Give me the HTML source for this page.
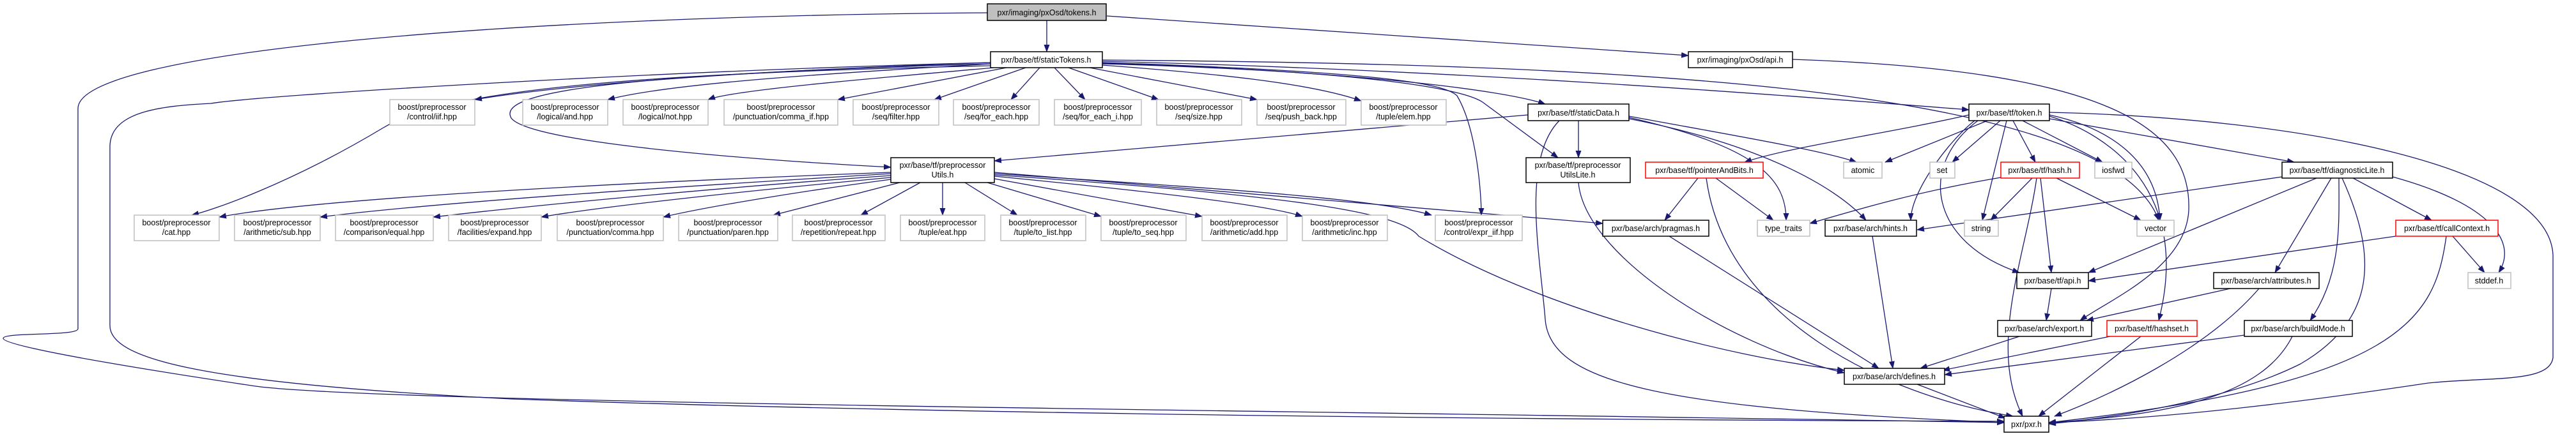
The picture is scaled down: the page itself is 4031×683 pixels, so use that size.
<!DOCTYPE html>
<html><head><meta charset="utf-8"><style>
html,body{margin:0;padding:0;background:#fff;}
svg{display:block;}
text{font-family:"Liberation Sans",sans-serif;font-size:12.5px;fill:#000;text-anchor:middle;}
.e{fill:none;stroke:#191970;stroke-width:1.3;marker-end:url(#a);}
.n{fill:#fff;stroke:#000;stroke-width:1.5;}
.g{fill:#fff;stroke:#bfbfbf;stroke-width:1.5;}
.r{fill:#fff;stroke:#ff0000;stroke-width:1.5;}
</style></head><body>
<svg width="4031" height="683" viewBox="0 0 4031 683" xmlns="http://www.w3.org/2000/svg">
<defs><marker id="a" markerWidth="12" markerHeight="9" refX="11" refY="4.5" orient="auto" markerUnits="userSpaceOnUse"><polygon points="0,0 12,4.5 0,9" fill="#191970"/></marker></defs>
<g>
<!-- tokens.h edges -->
<path class="e" d="M1638,32 L1638,81"/>
<path class="e" d="M1732,25 L2642,87"/>
<path class="e" d="M1545,20 C800,25 122,80 122,170 L122,515 C122,527 5,520 5,530 C5,545 300,590 400,605 C600,632 2000,642 3136,662"/>
<!-- staticTokens edges -->
<path class="e" d="M1550,98 C1200,110 900,130 743,156"/>
<path class="e" d="M1550,100 C1300,115 1050,130 951,156"/>
<path class="e" d="M1555,106 C1400,120 1150,140 1108,156"/>
<path class="e" d="M1575,106 L1311,156"/>
<path class="e" d="M1605,106 L1462,156"/>
<path class="e" d="M1627,106 L1582,156"/>
<path class="e" d="M1650,106 L1698,156"/>
<path class="e" d="M1672,106 L1813,156"/>
<path class="e" d="M1705,106 L1967,156"/>
<path class="e" d="M1725,102 C1900,115 2050,130 2130,158"/>
<path class="e" d="M1550,103 C1000,115 700,140 600,200 C450,290 330,330 300,337"/>
<path class="e" d="M1550,98 C1000,112 400,150 330,162 C250,166 172,175 172,230 L172,510 C172,560 300,600 800,625 C1500,650 2500,658 3136,660"/>
<path class="e" d="M1550,100 C900,118 780,150 800,185 C830,225 1200,252 1394,262"/>
<path class="e" d="M1725,100 C2100,110 2350,140 2418,163"/>
<path class="e" d="M1725,96 C2300,110 2800,150 3081,172"/>
<path class="e" d="M1725,99 C2150,112 2290,140 2320,160 L2438,247"/>
<path class="e" d="M1725,98 C2150,112 2260,130 2280,150 C2310,200 2318,300 2318,337"/>
<path class="e" d="M1725,94 C2500,100 3300,130 3378,345"/>
<path class="e" d="M2805,93 C3300,110 3430,200 3425,330 C3420,420 3300,470 3255,502"/>
<!-- ppUtils -->
<path class="e" d="M1394,270 C1000,285 500,310 343,340"/>
<path class="e" d="M1394,272 C1100,290 700,315 501,340"/>
<path class="e" d="M1394,275 C1150,292 850,320 678,340"/>
<path class="e" d="M1394,278 C1200,296 950,322 847,340"/>
<path class="e" d="M1394,281 C1250,300 1100,325 1038,340"/>
<path class="e" d="M1408,286 L1210,337"/>
<path class="e" d="M1440,286 L1347,337"/>
<path class="e" d="M1475,286 L1475,337"/>
<path class="e" d="M1510,286 L1592,337"/>
<path class="e" d="M1545,286 L1723,339"/>
<path class="e" d="M1556,280 L1881,339"/>
<path class="e" d="M1556,276 C1800,300 1980,320 2038,339"/>
<path class="e" d="M1556,272 C1900,295 2150,310 2240,337"/>
<path class="e" d="M1556,270 L2508,350"/>
<path class="e" d="M1556,274 C2000,305 2190,330 2220,370 C2400,480 2700,560 2886,580"/>
<!-- staticData -->
<path class="e" d="M2391,180 L1556,252"/>
<path class="e" d="M2470,189 L2470,247"/>
<path class="e" d="M2440,189 C2380,250 2410,400 2418,500 C2425,600 2600,640 3136,662"/>
<path class="e" d="M2549,182 C2700,210 2850,235 2905,254"/>
<path class="e" d="M2549,184 C2750,230 2795,280 2795,345"/>
<path class="e" d="M2549,186 C2750,225 2870,290 2920,345"/>
<path class="e" d="M2470,286 C2480,400 2700,540 2886,584"/>
<!-- pointerAndBits -->
<path class="e" d="M2657,279 L2605,345"/>
<path class="e" d="M2685,279 L2775,345"/>
<path class="e" d="M2670,279 C2700,500 2950,620 3150,652"/>
<!-- token.h -->
<path class="e" d="M3081,180 C2950,210 2800,230 2730,254"/>
<path class="e" d="M3110,189 L2950,254"/>
<path class="e" d="M3130,189 L3055,254"/>
<path class="e" d="M3140,189 L3102,345"/>
<path class="e" d="M3150,189 L3185,254"/>
<path class="e" d="M3165,189 L3290,254"/>
<path class="e" d="M3207,186 L3590,254"/>
<path class="e" d="M3207,180 C3300,200 3375,250 3380,345"/>
<path class="e" d="M3090,189 C3050,220 2990,300 2990,345"/>
<path class="e" d="M3095,189 C3000,260 3020,380 3160,427"/>
<path class="e" d="M3207,176 C3600,185 3990,260 3995,400 L3995,560 C3990,600 3900,590 3800,600 C3600,630 3400,655 3206,662"/>
<path class="e" d="M3207,182 C3300,210 3430,300 3378,502"/>
<!-- hash.h -->
<path class="e" d="M3131,278 C3000,300 2900,330 2832,350"/>
<path class="e" d="M3180,279 L3115,345"/>
<path class="e" d="M3218,279 L3350,345"/>
<path class="e" d="M3193,279 L3210,427"/>
<path class="e" d="M3187,279 C3170,400 3110,540 3165,652"/>
<!-- diagnosticLite -->
<path class="e" d="M3571,277 L3000,360"/>
<path class="e" d="M3625,279 L3268,427"/>
<path class="e" d="M3648,279 L3560,427"/>
<path class="e" d="M3660,279 C3660,350 3665,430 3615,502"/>
<path class="e" d="M3665,279 C3720,400 3720,500 3600,570 C3500,620 3350,650 3206,664"/>
<path class="e" d="M3682,279 L3805,345"/>
<path class="e" d="M3744,277 C3900,320 3940,380 3910,427"/>
<!-- callContext -->
<path class="e" d="M3749,370 L3268,440"/>
<path class="e" d="M3838,370 L3888,427"/>
<path class="e" d="M3828,370 C3810,500 3760,600 3206,662"/>
<!-- lower -->
<path class="e" d="M3210,452 L3202,502"/>
<path class="e" d="M3490,452 L3265,502"/>
<path class="e" d="M3535,452 C3450,550 3300,620 3215,652"/>
<path class="e" d="M3160,527 L3005,577"/>
<path class="e" d="M3302,527 L3040,580"/>
<path class="e" d="M3350,527 L3190,652"/>
<path class="e" d="M3512,525 L3043,587"/>
<path class="e" d="M3587,527 C3540,620 3400,650 3206,662"/>
<path class="e" d="M3000,602 L3138,655"/>
<path class="e" d="M2930,370 L2962,577"/>
<path class="e" d="M2612,370 L2940,577"/>
</g>
<g>
<rect x="1545" y="6" width="186" height="26" fill="#bfbfbf" stroke="#000" stroke-width="1.5"/><text x="1638" y="24">pxr/imaging/pxOsd/tokens.h</text>
<rect class="n" x="1550" y="81" width="175" height="25"/><text x="1637" y="98">pxr/base/tf/staticTokens.h</text>
<rect class="n" x="2642" y="81" width="163" height="25"/><text x="2723" y="98">pxr/imaging/pxOsd/api.h</text>

<rect class="g" x="610" y="156" width="133" height="40"/><text x="676" y="172">boost/preprocessor</text><text x="676" y="187">/control/iif.hpp</text>
<rect class="g" x="818" y="156" width="133" height="40"/><text x="884" y="172">boost/preprocessor</text><text x="884" y="187">/logical/and.hpp</text>
<rect class="g" x="975" y="156" width="133" height="40"/><text x="1041" y="172">boost/preprocessor</text><text x="1041" y="187">/logical/not.hpp</text>
<rect class="g" x="1133" y="156" width="178" height="40"/><text x="1222" y="172">boost/preprocessor</text><text x="1222" y="187">/punctuation/comma_if.hpp</text>
<rect class="g" x="1335" y="156" width="134" height="40"/><text x="1402" y="172">boost/preprocessor</text><text x="1402" y="187">/seq/filter.hpp</text>
<rect class="g" x="1492" y="156" width="134" height="40"/><text x="1559" y="172">boost/preprocessor</text><text x="1559" y="187">/seq/for_each.hpp</text>
<rect class="g" x="1650" y="156" width="136" height="40"/><text x="1718" y="172">boost/preprocessor</text><text x="1718" y="187">/seq/for_each_i.hpp</text>
<rect class="g" x="1810" y="156" width="133" height="40"/><text x="1876" y="172">boost/preprocessor</text><text x="1876" y="187">/seq/size.hpp</text>
<rect class="g" x="1967" y="156" width="139" height="40"/><text x="2036" y="172">boost/preprocessor</text><text x="2036" y="187">/seq/push_back.hpp</text>
<rect class="g" x="2130" y="156" width="133" height="40"/><text x="2196" y="172">boost/preprocessor</text><text x="2196" y="187">/tuple/elem.hpp</text>

<rect class="n" x="2391" y="163" width="158" height="26"/><text x="2470" y="181">pxr/base/tf/staticData.h</text>
<rect class="n" x="3081" y="163" width="126" height="26"/><text x="3144" y="181">pxr/base/tf/token.h</text>

<rect class="n" x="1394" y="247" width="162" height="39"/><text x="1475" y="263">pxr/base/tf/preprocessor</text><text x="1475" y="278">Utils.h</text>
<rect class="n" x="2388" y="247" width="163" height="39"/><text x="2469" y="263">pxr/base/tf/preprocessor</text><text x="2469" y="278">UtilsLite.h</text>
<rect class="r" x="2575" y="254" width="184" height="25"/><text x="2667" y="271">pxr/base/tf/pointerAndBits.h</text>
<rect class="g" x="2885" y="254" width="60" height="25"/><text x="2915" y="271">atomic</text>
<rect class="g" x="3020" y="254" width="39" height="25"/><text x="3039" y="271">set</text>
<rect class="r" x="3131" y="254" width="123" height="25"/><text x="3192" y="271">pxr/base/tf/hash.h</text>
<rect class="g" x="3278" y="254" width="58" height="25"/><text x="3307" y="271">iosfwd</text>
<rect class="n" x="3571" y="254" width="173" height="25"/><text x="3657" y="271">pxr/base/tf/diagnosticLite.h</text>

<rect class="g" x="210" y="337" width="133" height="40"/><text x="276" y="353">boost/preprocessor</text><text x="276" y="368">/cat.hpp</text>
<rect class="g" x="367" y="337" width="134" height="40"/><text x="434" y="353">boost/preprocessor</text><text x="434" y="368">/arithmetic/sub.hpp</text>
<rect class="g" x="525" y="337" width="153" height="40"/><text x="601" y="353">boost/preprocessor</text><text x="601" y="368">/comparison/equal.hpp</text>
<rect class="g" x="702" y="337" width="145" height="40"/><text x="774" y="353">boost/preprocessor</text><text x="774" y="368">/facilities/expand.hpp</text>
<rect class="g" x="872" y="337" width="166" height="40"/><text x="955" y="353">boost/preprocessor</text><text x="955" y="368">/punctuation/comma.hpp</text>
<rect class="g" x="1062" y="337" width="155" height="40"/><text x="1139" y="353">boost/preprocessor</text><text x="1139" y="368">/punctuation/paren.hpp</text>
<rect class="g" x="1240" y="337" width="145" height="40"/><text x="1312" y="353">boost/preprocessor</text><text x="1312" y="368">/repetition/repeat.hpp</text>
<rect class="g" x="1409" y="337" width="132" height="40"/><text x="1475" y="353">boost/preprocessor</text><text x="1475" y="368">/tuple/eat.hpp</text>
<rect class="g" x="1566" y="337" width="133" height="40"/><text x="1632" y="353">boost/preprocessor</text><text x="1632" y="368">/tuple/to_list.hpp</text>
<rect class="g" x="1723" y="337" width="133" height="40"/><text x="1789" y="353">boost/preprocessor</text><text x="1789" y="368">/tuple/to_seq.hpp</text>
<rect class="g" x="1881" y="337" width="133" height="40"/><text x="1947" y="353">boost/preprocessor</text><text x="1947" y="368">/arithmetic/add.hpp</text>
<rect class="g" x="2038" y="337" width="133" height="40"/><text x="2104" y="353">boost/preprocessor</text><text x="2104" y="368">/arithmetic/inc.hpp</text>
<rect class="g" x="2246" y="337" width="136" height="40"/><text x="2314" y="353">boost/preprocessor</text><text x="2314" y="368">/control/expr_iif.hpp</text>

<rect class="n" x="2508" y="345" width="166" height="25"/><text x="2591" y="362">pxr/base/arch/pragmas.h</text>
<rect class="g" x="2750" y="345" width="82" height="25"/><text x="2791" y="362">type_traits</text>
<rect class="n" x="2856" y="345" width="143" height="25"/><text x="2927" y="362">pxr/base/arch/hints.h</text>
<rect class="g" x="3074" y="345" width="53" height="25"/><text x="3100" y="362">string</text>
<rect class="g" x="3344" y="345" width="58" height="25"/><text x="3373" y="362">vector</text>
<rect class="r" x="3749" y="345" width="160" height="25"/><text x="3829" y="362">pxr/base/tf/callContext.h</text>

<rect class="n" x="3156" y="427" width="112" height="25"/><text x="3212" y="444">pxr/base/tf/api.h</text>
<rect class="n" x="3464" y="427" width="165" height="25"/><text x="3546" y="444">pxr/base/arch/attributes.h</text>
<rect class="g" x="3862" y="427" width="67" height="25"/><text x="3895" y="444">stddef.h</text>

<rect class="n" x="3126" y="502" width="147" height="25"/><text x="3199" y="519">pxr/base/arch/export.h</text>
<rect class="r" x="3297" y="502" width="141" height="25"/><text x="3367" y="519">pxr/base/tf/hashset.h</text>
<rect class="n" x="3512" y="502" width="169" height="25"/><text x="3596" y="519">pxr/base/arch/buildMode.h</text>

<rect class="n" x="2886" y="577" width="157" height="25"/><text x="2964" y="594">pxr/base/arch/defines.h</text>
<rect class="n" x="3136" y="652" width="70" height="25"/><text x="3171" y="669">pxr/pxr.h</text>
</g>
</svg>
</body></html>
